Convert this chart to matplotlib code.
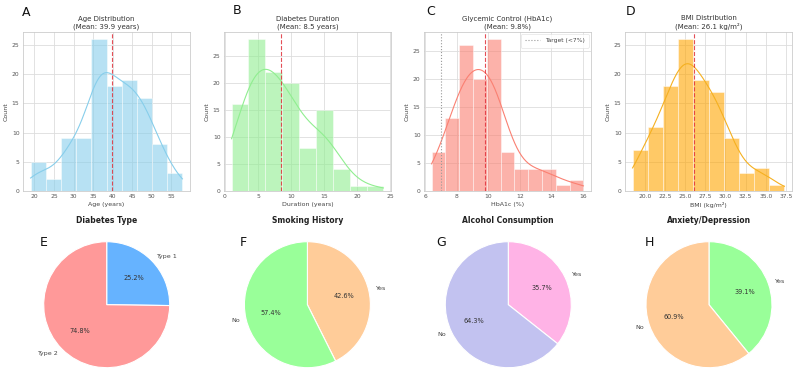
import numpy as np
import matplotlib
matplotlib.use("Agg")
import matplotlib.pyplot as plt

# ---------------- data ----------------
age_range = (19.0, 57.9)
age_counts = [5, 2, 9, 9, 26, 18, 19, 16, 8, 3]
age_mean = 39.9
age_ticks = [20, 25, 30, 35, 40, 45, 50, 55]

dur_range = (1.0, 24.0)
dur_counts = [16, 28, 22, 20, 8, 15, 4, 1, 1]
dur_mean = 8.5
dur_ticks = [0, 5, 10, 15, 20, 25]

hba_range = (6.4, 16.05)
hba_counts = [7, 13, 26, 20, 27, 7, 4, 4, 4, 1, 2]
hba_mean = 9.8
hba_target = 7
hba_ticks = [6, 8, 10, 12, 14, 16]

bmi_range = (18.5, 37.3)
bmi_counts = [7, 11, 18, 26, 19, 17, 9, 3, 4, 1]
bmi_mean = 26.1
bmi_ticks = [20.0, 22.5, 25.0, 27.5, 30.0, 32.5, 35.0, 37.5]

count_ticks = [0, 5, 10, 15, 20, 25]

type_labels = ["Type 1", "Type 2"]
type_counts = [29, 86]
smoke_labels = ["Yes", "No"]
smoke_counts = [49, 66]
alcohol_labels = ["Yes", "No"]
alcohol_counts = [41, 74]
anx_labels = ["Yes", "No"]
anx_counts = [45, 70]

# ---------------- style ----------------
W, H = 794, 369
plt.rcParams["font.family"] = ["DejaVu Sans"]
fig = plt.figure(figsize=(W / 100, H / 100), dpi=100)
fig.patch.set_facecolor("white")


def px_axes(left, top, right, bottom):
    return fig.add_axes([left / W, 1 - bottom / H, (right - left) / W, (bottom - top) / H])


def kde_curve(edges, counts, adjust=1.0):
    centers = (edges[:-1] + edges[1:]) / 2
    w = np.asarray(counts, float)
    n = w.sum()
    m = (centers * w).sum() / n
    sd = np.sqrt(((centers - m) ** 2 * w).sum() / (n - 1))
    bw = n ** (-0.2) * sd * adjust
    x = np.linspace(edges[0], edges[-1], 200)
    dens = (w[:, None] * np.exp(-0.5 * ((x[None, :] - centers[:, None]) / bw) ** 2)).sum(0)
    dens /= n * bw * np.sqrt(2 * np.pi)
    binw = edges[1] - edges[0]
    return x, dens * n * binw


def hist_panel(left, rng, counts, color, line_color, mean, title, xlabel, xticks,
               fmt=None, adjust=1.0):
    ax = px_axes(left, 31.7, left + 167, 191)
    edges = np.linspace(rng[0], rng[1], len(counts) + 1)
    ax.set_axisbelow(True)
    ax.grid(True, color="#dddddd", linewidth=0.6)
    ax.hist(edges[:-1], bins=edges, weights=counts, color=color, alpha=0.6,
            edgecolor="white", linewidth=0.5)
    x, y = kde_curve(edges, counts, adjust)
    ax.plot(x, y, color=line_color, linewidth=0.8)
    ax.axvline(mean, color="#e0303a", linestyle="--", linewidth=0.8, alpha=0.85)
    ax.set_title(title, fontsize=5, color="#333333", pad=2.5, linespacing=1.25)
    ax.set_xlabel(xlabel, fontsize=4.5, color="#444444", labelpad=1.5)
    ax.set_ylabel("Count", fontsize=4.5, color="#444444", labelpad=2)
    ax.set_xticks(xticks)
    if fmt:
        ax.set_xticklabels([fmt % t for t in xticks])
    ax.set_yticks(count_ticks)
    ax.tick_params(labelsize=4.3, colors="#555555", length=0, pad=2.5)
    for s in ax.spines.values():
        s.set_color("#cccccc")
        s.set_linewidth(0.6)
    return ax


hist_panel(23, age_range, age_counts, "#87CEEB", "#87CEEB", age_mean,
           "Age Distribution\n(Mean: 39.9 years)", "Age (years)", age_ticks, adjust=1.05)
hist_panel(224, dur_range, dur_counts, "#90EE90", "#90EE90", dur_mean,
           "Diabetes Duration\n(Mean: 8.5 years)", "Duration (years)", dur_ticks, adjust=1.4)
axc = hist_panel(424, hba_range, hba_counts, "#FA8072", "#FA8072", hba_mean,
                 "Glycemic Control (HbA1c)\n(Mean: 9.8%)", "HbA1c (%)", hba_ticks, adjust=1.3)
axc.axvline(hba_target, color="#999999", linestyle=":", linewidth=0.8, label="Target (<7%)")
leg = axc.legend(loc="upper right", fontsize=4.3, frameon=True, borderpad=0.7,
                 handlelength=2.4, borderaxespad=0.4)
leg.get_frame().set_edgecolor("#dddddd")
leg.get_frame().set_linewidth(0.5)
for t in leg.get_texts():
    t.set_color("#444444")
hist_panel(625, bmi_range, bmi_counts, "#FFA500", "#F5B020", bmi_mean,
           "BMI Distribution\n(Mean: 26.1 kg/m²)", "BMI (kg/m²)", bmi_ticks, fmt="%.1f",
           adjust=1.1)

# ---------------- pies ----------------
R = 63
S = 2 * R * 1.25
pies = [
    (106.7, "Diabetes Type", type_labels, type_counts, ["#66b3ff", "#ff9999"]),
    (307.4, "Smoking History", smoke_labels, smoke_counts, ["#ffcc99", "#99ff99"]),
    (508.3, "Alcohol Consumption", alcohol_labels, alcohol_counts, ["#ffb3e6", "#c2c2f0"]),
    (709.0, "Anxiety/Depression", anx_labels, anx_counts, ["#99ff99", "#ffcc99"]),
]
cy = 304.7
for cx, title, labels, counts, colors in pies:
    ax = px_axes(cx - S / 2, cy - S / 2, cx + S / 2, cy + S / 2)
    wedges, texts, autotexts = ax.pie(
        counts, labels=labels, colors=colors, autopct="%1.1f%%",
        startangle=90, counterclock=False,
        wedgeprops=dict(edgecolor="white", linewidth=0.8),
        textprops=dict(fontsize=4.6, color="#444444"))
    for t in autotexts:
        t.set_color("#333333")
        t.set_fontsize(4.7)
    ax.set_xlim(-1.25, 1.25)
    ax.set_ylim(-1.25, 1.25)
    ax.set_title(title, fontsize=5.5, fontweight="bold", color="#222222", pad=2)

# ---------------- panel letters ----------------
letters = [("A", 21.7, 6.0), ("B", 232.7, 4.5), ("C", 426, 5.0), ("D", 626, 5.0),
           ("E", 40, 236.5), ("F", 240, 236), ("G", 436.7, 235.5), ("H", 645, 236)]
for lt, x, y in letters:
    fig.text(x / W, 1 - y / H, lt, fontsize=9, va="top", ha="left", color="#111111")

fig.savefig("out.png", dpi=100, facecolor="white")
